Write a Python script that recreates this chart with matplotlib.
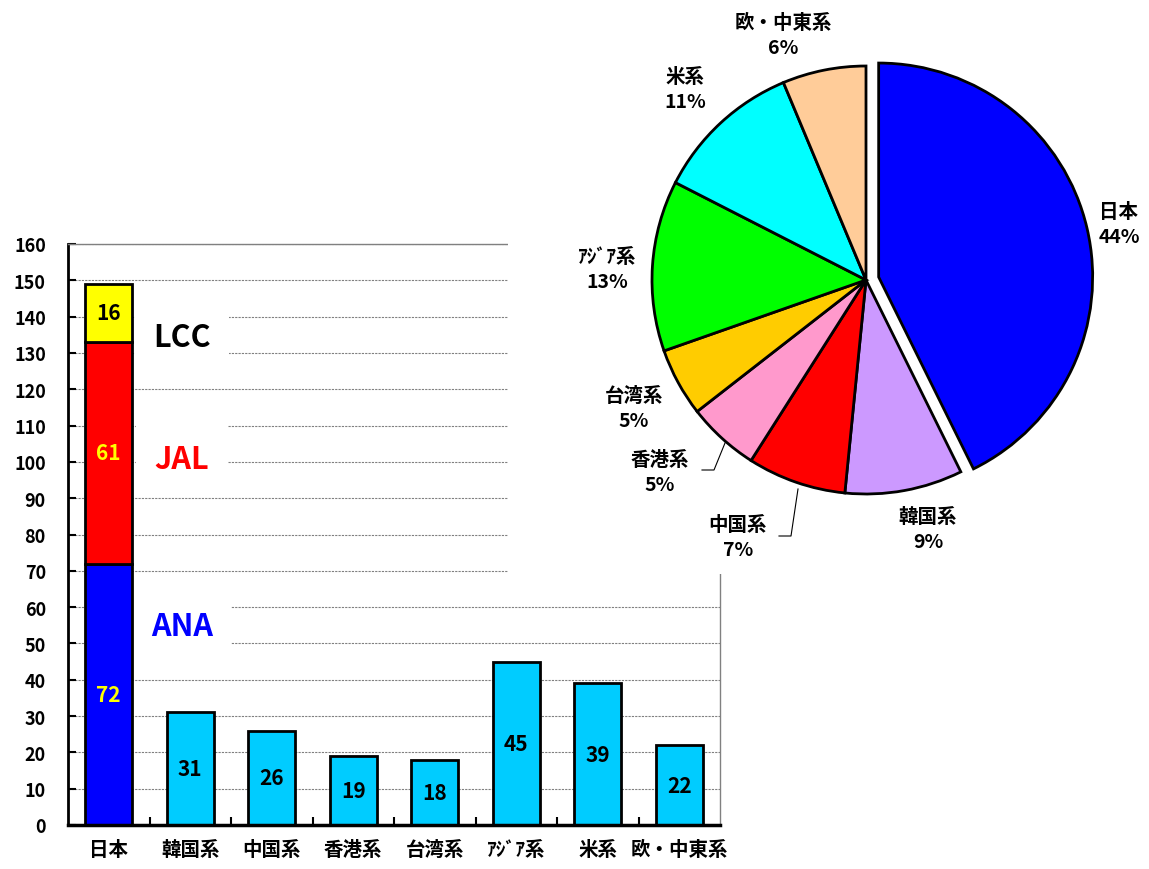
import numpy as np
import matplotlib
matplotlib.use("Agg")
import matplotlib.pyplot as plt

plt.rcParams['font.family'] = ['Noto Sans CJK JP', 'DejaVu Sans']
plt.rcParams['font.weight'] = 'bold'

# ── Data ──────────────────────────────────────────────────────────────────────
categories = ["日本", "韓国系", "中国系", "香港系", "台湾系", "ｱｼﾞｱ系", "米系", "欧・中東系"]
japan_ana = 72
japan_jal = 61
japan_lcc = 16
foreign_values = [31, 26, 19, 18, 45, 39, 22]
pie_pct_labels = ["44%", "9%", "7%", "5%", "5%", "13%", "11%", "6%"]

# ── Styles ────────────────────────────────────────────────────────────────────
W, H = 1149, 870
C_ANA, C_JAL, C_LCC, C_OTHER = "#0000FF", "#FF0000", "#FFFF00", "#00CCFF"
pie_colors = ["#0000FF", "#CC99FF", "#FF0000", "#FF99CC",
              "#FFCC00", "#00FF00", "#00FFFF", "#FFCC99"]

fig = plt.figure(figsize=(W / 100, H / 100), dpi=100)

# ══════════════════════════════════════════════════════════════════════════════
# BAR CHART
# ══════════════════════════════════════════════════════════════════════════════
ax = fig.add_axes([68 / W, 44 / H, 652 / W, 581 / H], zorder=0)
x = np.arange(len(categories))
bw = 0.58
kw = dict(width=bw, edgecolor="black", linewidth=2, zorder=2)

ax.bar(x[0], japan_ana, color=C_ANA, **kw)
ax.bar(x[0], japan_jal, bottom=japan_ana, color=C_JAL, **kw)
ax.bar(x[0], japan_lcc, bottom=japan_ana + japan_jal, color=C_LCC, **kw)
ax.bar(x[1:], foreign_values, color=C_OTHER, **kw)

# value labels
vfont = dict(ha="center", va="center", fontsize=15, fontweight="bold", zorder=4)
ax.text(x[0], japan_ana / 2, str(japan_ana), color="#FFFF00", **vfont)
ax.text(x[0], japan_ana + japan_jal / 2, str(japan_jal), color="#FFFF00", **vfont)
ax.text(x[0], japan_ana + japan_jal + japan_lcc / 2, str(japan_lcc), color="black", **vfont)
for xi, v in zip(x[1:], foreign_values):
    ax.text(xi, v / 2, str(v), color="black", **vfont)

# carrier labels with white boxes hiding the grid (drawn under the bars)
lfont = dict(ha="center", va="center", fontsize=22, fontweight="bold", zorder=1.5,
             bbox=dict(boxstyle="square,pad=0.6", facecolor="white", edgecolor="none"))
ax.text(0.9, 134.4, "LCC", color="black", **lfont)
ax.text(0.9, 100.8, "JAL", color=C_JAL, **lfont)
ax.text(0.9, 54.8, "ANA", color=C_ANA, **lfont)

ax.set_xlim(-0.5, len(categories) - 0.5)
ax.set_ylim(0, 160)
ax.set_yticks(np.arange(0, 161, 10))
ax.set_xticks(x)
ax.set_xticklabels(categories, fontsize=14, fontweight="bold")
ax.set_xticks(np.arange(0.5, len(categories) - 0.5, 1), minor=True)
ax.tick_params(axis="x", which="major", length=0, pad=11)
ax.tick_params(axis="x", which="minor", direction="in", length=6, width=1.5)
ax.tick_params(axis="y", direction="in", length=6, width=1.5, pad=16, labelsize=13)
for lab in ax.get_yticklabels():
    lab.set_fontweight("bold")

ax.yaxis.grid(True, linestyle=(0, (2, 1)), color="#808080", linewidth=0.8)
ax.set_axisbelow(True)
ax.spines["left"].set_linewidth(2)
ax.spines["bottom"].set_linewidth(2.5)
ax.spines["top"].set_color("#808080")
ax.spines["right"].set_color("#808080")
ax.spines["top"].set_linewidth(1)
ax.spines["right"].set_linewidth(1)

# ══════════════════════════════════════════════════════════════════════════════
# PIE CHART (pixel units, white box covers the upper right of the bar chart)
# ══════════════════════════════════════════════════════════════════════════════
pax = fig.add_axes([508 / W, (H - 575) / H, (W - 508) / W, 575 / H], zorder=2)
pax.set_facecolor("white")

pie_values = [japan_ana + japan_jal + japan_lcc] + foreign_values
cx, cy, r = 866, H - 281, 214
wedges, _ = pax.pie(pie_values, colors=pie_colors, startangle=90, counterclock=False,
                    center=(cx, cy), radius=r, frame=True,
                    wedgeprops=dict(edgecolor="black", linewidth=2))

# pull the Japan slice out
w0 = wedges[0]
tm = np.deg2rad((w0.theta1 + w0.theta2) / 2)
w0.set_center((cx + 13 * np.cos(tm), cy + 13 * np.sin(tm)))

pax.set_xlim(508, W)
pax.set_ylim(H - 575, H)
pax.set_xticks([])
pax.set_yticks([])
for s in pax.spines.values():
    s.set_visible(False)

# label positions (pixel coords of the original layout)
label_pos = [(1119, 225), (928, 530), (738, 538), (660, 473),
             (634, 409), (607, 270), (685, 90), (783, 36)]
for name, pct, (lx, ly) in zip(categories, pie_pct_labels, label_pos):
    pax.text(lx, H - ly, f"{name}\n{pct}", ha="center", va="center",
             fontsize=14, fontweight="bold", linespacing=1.35)

# leader lines for the small slices
leaders = [[(702, 471), (714, 471), (725, 444)],
           [(779, 537), (791, 537), (798, 490)]]
for pts in leaders:
    pax.plot([p[0] for p in pts], [H - p[1] for p in pts], color="black", lw=0.8)

fig.savefig("out.png", dpi=100)
